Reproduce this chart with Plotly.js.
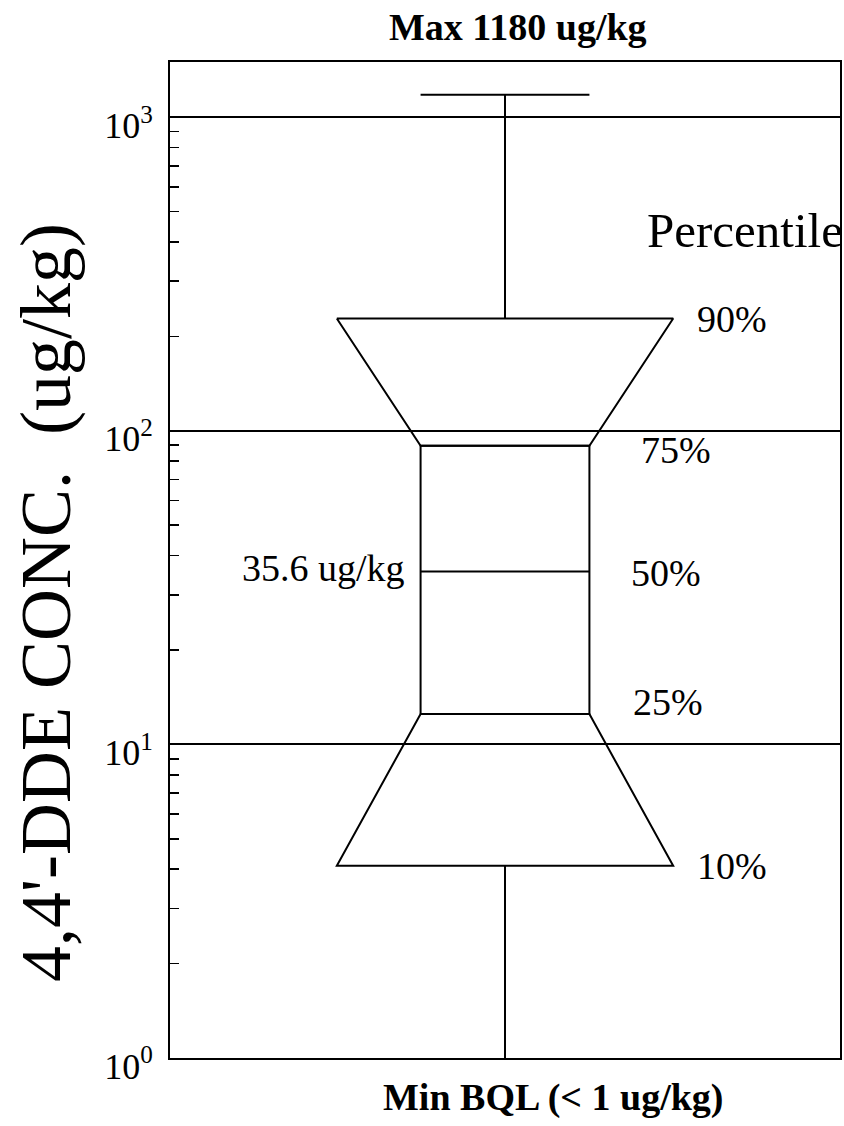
<!DOCTYPE html>
<html>
<head>
<meta charset="utf-8">
<script src="https://cdn.plot.ly/plotly-3.0.1.min.js"></script>
<style>
  html, body { margin: 0; padding: 0; background: #fff; }
  #chart { width: 844px; height: 1126px; }
</style>
</head>
<body>
<div id="chart"></div>
<script>
// 4,4'-DDE concentration distribution (ug/kg)
const percentileLabels = ['10%', '25%', '50%', '75%', '90%'];
const percentileValues = [4.1, 12.5, 35.6, 89.6, 228];
const maxValue = 1180;
const detectionLimit = 1;          // minimum is below quantitation limit (<1 ug/kg)
const tickValues = [1, 10, 100, 1000];
const tickLabels = ['10<sup>0</sup>', '10<sup>1</sup>', '10<sup>2</sup>', '10<sup>3</sup>'];

const [p10, p25, p50, p75, p90] = percentileValues;

// geometry of the glyph on the [0,1] x axis
const c = 0.5;       // centre
const bw = 0.126;    // half-width of the 25-75% box and the max cap
const tw = 0.251;    // half-width of the 10% / 90% ends of the trapezoids

const serif = 'Liberation Serif, Times New Roman, serif';
const line = { color: '#000', width: 2 };
const seg = (x, y) => ({ type: 'scatter', mode: 'lines', x, y, line, hoverinfo: 'skip', showlegend: false });

const traces = [
  seg([c, c], [p90, maxValue]),                                  // upper whisker
  seg([c - bw, c + bw], [maxValue, maxValue]),                   // max cap
  seg([c - tw, c + tw, c + bw, c - bw, c - tw], [p90, p90, p75, p75, p90]), // 75-90% trapezoid
  seg([c - bw, c + bw, c + bw, c - bw, c - bw], [p25, p25, p75, p75, p25]), // 25-75% box
  seg([c - bw, c + bw], [p50, p50]),                             // median
  seg([c - bw, c + bw, c + tw, c - tw, c - bw], [p25, p25, p10, p10, p25]), // 10-25% trapezoid
  seg([c, c], [p10, detectionLimit])                             // lower whisker
];

// placement of the percentile labels on the right
const labelX = [0.784, 0.688, 0.685, 0.70, 0.784];
const labelShift = [0, 12, -2, -4, 0];

const annotations = percentileLabels.map((t, i) => ({
  text: t, x: labelX[i], y: Math.log10(percentileValues[i]), xref: 'x', yref: 'y',
  xanchor: 'left', yanchor: 'middle', yshift: labelShift[i], showarrow: false,
  font: { family: serif, size: 38, color: '#000' }
}));

annotations.push(
  { text: 'Percentile', x: 0.709, y: 0.831, xref: 'x', yref: 'paper',
    xanchor: 'left', yanchor: 'middle', showarrow: false,
    font: { family: serif, size: 49, color: '#000' } },
  { text: p50 + ' ug/kg', x: c - bw, y: Math.log10(p50), xref: 'x', yref: 'y',
    xanchor: 'right', yanchor: 'middle', xshift: -14, yshift: 3, showarrow: false,
    font: { family: serif, size: 38, color: '#000' } },
  { text: '<b>Max ' + maxValue + ' ug/kg</b>', x: 0.52, y: 1.035, xref: 'x', yref: 'paper',
    xanchor: 'center', yanchor: 'middle', showarrow: false,
    font: { family: serif, size: 38, color: '#000' } },
  { text: '<b>Min BQL (&lt; ' + detectionLimit + ' ug/kg)</b>', x: 0.572, y: -0.04, xref: 'x', yref: 'paper',
    xanchor: 'center', yanchor: 'middle', showarrow: false,
    font: { family: serif, size: 38, color: '#000' } },
  { text: "4,4'-DDE CONC.  (ug/kg)", x: 0, y: 0.5, xref: 'paper', yref: 'paper',
    xanchor: 'center', yanchor: 'middle', xshift: -124, yshift: -43, textangle: -90,
    showarrow: false, font: { family: serif, size: 72, color: '#000' } }
);

const layout = {
  width: 844, height: 1126,
  margin: { l: 170, r: 4, t: 62, b: 68, pad: 0 },
  paper_bgcolor: '#fff', plot_bgcolor: '#fff',
  showlegend: false,
  xaxis: {
    range: [0, 1], showticklabels: false, ticks: '', showgrid: false, zeroline: false,
    showline: true, mirror: true, linecolor: '#000', linewidth: 2, fixedrange: true
  },
  yaxis: {
    type: 'log', range: [0, 3.176],
    tickvals: tickValues, ticktext: tickLabels,
    tickfont: { family: serif, size: 36, color: '#000' },
    ticks: 'inside', ticklen: 14, tickwidth: 1.5, tickcolor: '#000',
    ticklabelstandoff: 8, ticklabelshift: 8,
    minor: { ticks: 'inside', ticklen: 9, tickwidth: 1.5, tickcolor: '#000', dtick: 'D1', showgrid: false },
    showgrid: true, gridcolor: '#000', gridwidth: 2, zeroline: false,
    showline: true, mirror: true, linecolor: '#000', linewidth: 2, fixedrange: true
  },
  annotations
};

Plotly.newPlot('chart', traces, layout, { staticPlot: true, displayModeBar: false });
</script>
</body>
</html>
